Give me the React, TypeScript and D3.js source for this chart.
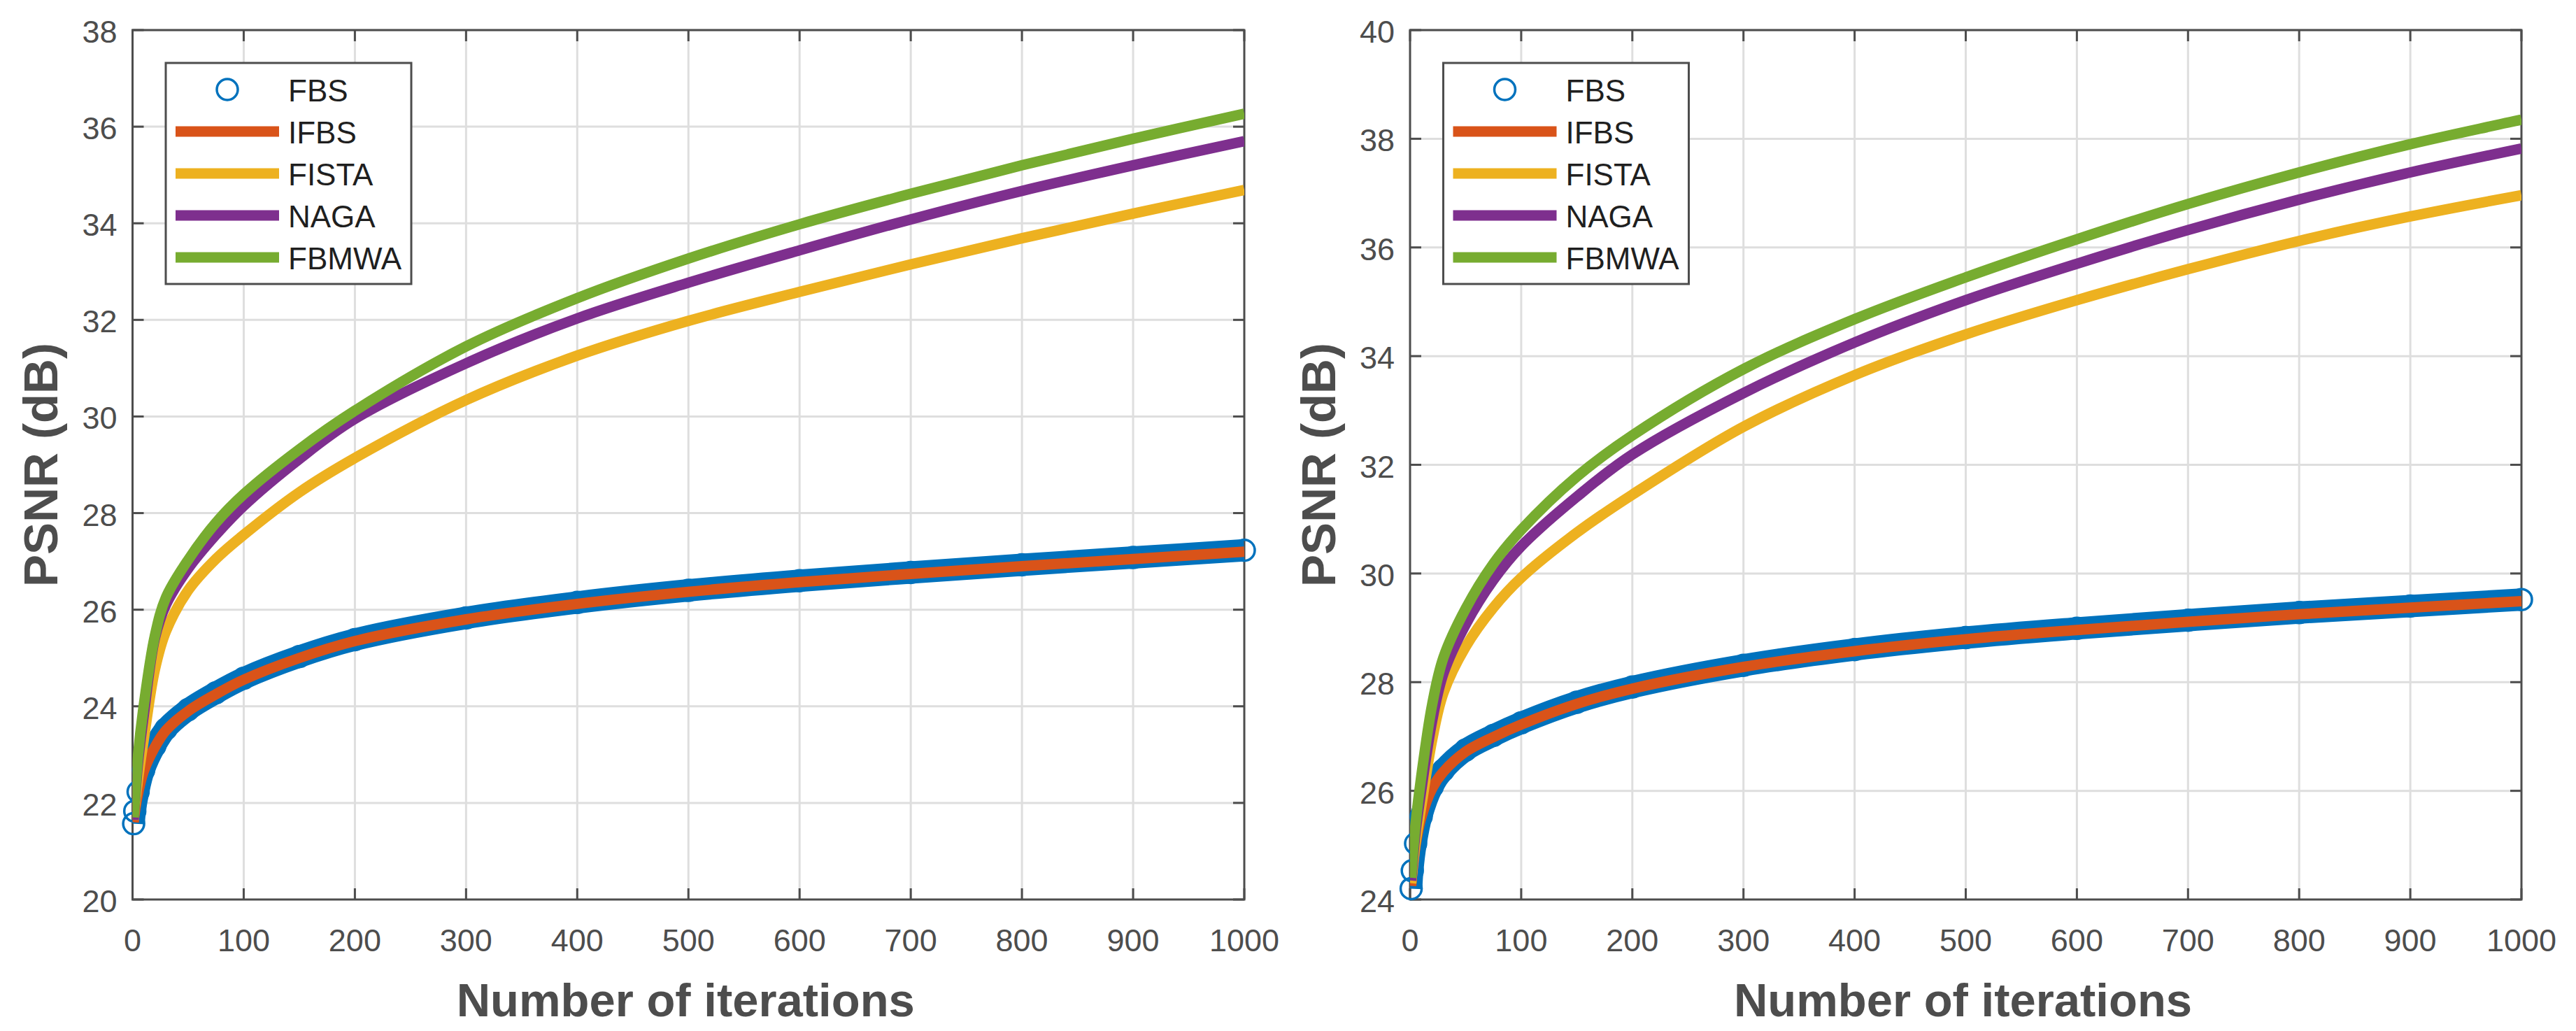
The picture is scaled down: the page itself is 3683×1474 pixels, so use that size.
import { useEffect, useRef } from 'react'
import * as d3 from 'd3'

const ITERATIONS = [1, 2, 5, 10, 20, 30, 50, 75, 100, 150, 200, 300, 400, 500, 600, 700, 800, 900, 1000]
const X_TICKS = [0, 100, 200, 300, 400, 500, 600, 700, 800, 900, 1000]
const Y_TICKS_LEFT = [20, 22, 24, 26, 28, 30, 32, 34, 36, 38]
const Y_TICKS_RIGHT = [24, 26, 28, 30, 32, 34, 36, 38, 40]

const SERIES_NAMES = ['FBS', 'IFBS', 'FISTA', 'NAGA', 'FBMWA']
const SERIES_COLORS = ['#0072BD', '#D95319', '#EDB120', '#7E2F8E', '#77AC30']

// left panel
const FBS_LEFT = [21.57, 21.83, 22.23, 22.68, 23.18, 23.53, 23.93, 24.28, 24.58, 25.03, 25.38, 25.83, 26.15, 26.4, 26.6, 26.77, 26.93, 27.08, 27.23]
const IFBS_LEFT = [21.6, 21.8, 22.2, 22.65, 23.15, 23.5, 23.9, 24.25, 24.55, 25.0, 25.35, 25.8, 26.12, 26.37, 26.57, 26.74, 26.9, 27.05, 27.2]
const FISTA_LEFT = [21.65, 21.9, 22.5, 23.3, 24.75, 25.55, 26.4, 27.05, 27.55, 28.43, 29.14, 30.34, 31.26, 31.98, 32.58, 33.15, 33.69, 34.2, 34.69]
const NAGA_LEFT = [21.65, 22.0, 22.85, 23.8, 25.4, 26.1, 26.85, 27.55, 28.15, 29.12, 29.95, 31.1, 32.03, 32.77, 33.44, 34.08, 34.67, 35.2, 35.7]
const FBMWA_LEFT = [21.7, 22.05, 23.0, 24.0, 25.45, 26.25, 27.03, 27.8, 28.39, 29.32, 30.12, 31.45, 32.45, 33.27, 33.98, 34.61, 35.2, 35.75, 36.27]

// right panel
const FBS_RIGHT = [24.2, 24.53, 25.03, 25.53, 26.08, 26.38, 26.75, 27.02, 27.25, 27.63, 27.91, 28.31, 28.6, 28.82, 28.99, 29.14, 29.28, 29.4, 29.52]
const IFBS_RIGHT = [24.25, 24.5, 25.0, 25.5, 26.05, 26.35, 26.72, 26.99, 27.22, 27.6, 27.88, 28.28, 28.57, 28.79, 28.96, 29.11, 29.25, 29.37, 29.49]
const FISTA_RIGHT = [24.3, 24.5, 25.05, 25.7, 26.95, 27.8, 28.65, 29.37, 29.92, 30.75, 31.45, 32.7, 33.65, 34.4, 35.03, 35.6, 36.12, 36.57, 36.96]
const NAGA_RIGHT = [24.35, 24.6, 25.25, 26.0, 27.3, 28.16, 29.06, 29.88, 30.5, 31.41, 32.19, 33.32, 34.25, 35.03, 35.7, 36.32, 36.88, 37.38, 37.82]
const FBMWA_RIGHT = [24.4, 24.7, 25.4, 26.25, 27.6, 28.45, 29.35, 30.18, 30.8, 31.78, 32.54, 33.76, 34.68, 35.45, 36.15, 36.8, 37.38, 37.9, 38.35]

const WIDTH = 3683
const HEIGHT = 1474
const PLOT_TOP = 43
const PLOT_BOTTOM = 1286
const AXIS_COLOR = '#4d4d4d'
const GRID_COLOR = '#dedede'
const FONT = '"Liberation Sans", Arial, Helvetica, sans-serif'

const panels = [
  {
    id: 'left',
    left: 189.5,
    right: 1779,
    yDomain: [20, 38],
    yTicks: Y_TICKS_LEFT,
    series: [FBS_LEFT, IFBS_LEFT, FISTA_LEFT, NAGA_LEFT, FBMWA_LEFT],
  },
  {
    id: 'right',
    left: 2016,
    right: 3605,
    yDomain: [24, 40],
    yTicks: Y_TICKS_RIGHT,
    series: [FBS_RIGHT, IFBS_RIGHT, FISTA_RIGHT, NAGA_RIGHT, FBMWA_RIGHT],
  },
]

export default function App() {
  const svgRef = useRef<SVGSVGElement>(null)

  useEffect(() => {
    if (!svgRef.current) return
    const svg = d3.select(svgRef.current)
    svg.selectAll('*').remove()

    svg.append('rect')
      .attr('width', WIDTH)
      .attr('height', HEIGHT)
      .attr('fill', '#fff')

    const defs = svg.append('defs')

    panels.forEach((p) => {
      const xScale = d3.scaleLinear().domain([0, 1000]).range([p.left, p.right])
      const yScale = d3.scaleLinear().domain(p.yDomain).range([PLOT_BOTTOM, PLOT_TOP])
      const g = svg.append('g')

      defs.append('clipPath')
        .attr('id', `clip-${p.id}`)
        .append('rect')
        .attr('x', p.left)
        .attr('y', PLOT_TOP)
        .attr('width', p.right - p.left)
        .attr('height', PLOT_BOTTOM - PLOT_TOP)

      // grid
      g.append('g')
        .selectAll('line')
        .data(X_TICKS.slice(1, -1))
        .join('line')
        .attr('x1', (d) => xScale(d))
        .attr('x2', (d) => xScale(d))
        .attr('y1', PLOT_TOP)
        .attr('y2', PLOT_BOTTOM)
        .attr('stroke', GRID_COLOR)
        .attr('stroke-width', 3)

      g.append('g')
        .selectAll('line')
        .data(p.yTicks.slice(1))
        .join('line')
        .attr('x1', p.left)
        .attr('x2', p.right)
        .attr('y1', (d) => yScale(d))
        .attr('y2', (d) => yScale(d))
        .attr('stroke', GRID_COLOR)
        .attr('stroke-width', 3)

      // box
      g.append('rect')
        .attr('x', p.left)
        .attr('y', PLOT_TOP)
        .attr('width', p.right - p.left)
        .attr('height', PLOT_BOTTOM - PLOT_TOP)
        .attr('fill', 'none')
        .attr('stroke', AXIS_COLOR)
        .attr('stroke-width', 3)

      // ticks (inward, all four sides)
      const tickLen = 16
      const ticks = g.append('g').attr('stroke', AXIS_COLOR).attr('stroke-width', 3)
      X_TICKS.forEach((t) => {
        ticks.append('line')
          .attr('x1', xScale(t)).attr('x2', xScale(t))
          .attr('y1', PLOT_BOTTOM).attr('y2', PLOT_BOTTOM - tickLen)
        ticks.append('line')
          .attr('x1', xScale(t)).attr('x2', xScale(t))
          .attr('y1', PLOT_TOP).attr('y2', PLOT_TOP + tickLen)
      })
      p.yTicks.forEach((t) => {
        ticks.append('line')
          .attr('x1', p.left).attr('x2', p.left + tickLen)
          .attr('y1', yScale(t)).attr('y2', yScale(t))
        ticks.append('line')
          .attr('x1', p.right).attr('x2', p.right - tickLen)
          .attr('y1', yScale(t)).attr('y2', yScale(t))
      })

      // tick labels
      g.append('g')
        .selectAll('text')
        .data(X_TICKS)
        .join('text')
        .attr('x', (d) => xScale(d))
        .attr('y', PLOT_BOTTOM + 74)
        .attr('text-anchor', 'middle')
        .attr('font-family', FONT)
        .attr('font-size', 45)
        .attr('fill', AXIS_COLOR)
        .text((d) => String(d))

      g.append('g')
        .selectAll('text')
        .data(p.yTicks)
        .join('text')
        .attr('x', p.left - 22)
        .attr('y', (d) => yScale(d) + 18)
        .attr('text-anchor', 'end')
        .attr('font-family', FONT)
        .attr('font-size', 45)
        .attr('fill', AXIS_COLOR)
        .text((d) => String(d))

      // axis labels
      g.append('text')
        .attr('transform', `translate(${p.left - 107.5}, ${(PLOT_TOP + PLOT_BOTTOM) / 2}) rotate(-90)`)
        .attr('text-anchor', 'middle')
        .attr('font-family', FONT)
        .attr('font-weight', 'bold')
        .attr('font-size', 69)
        .attr('fill', AXIS_COLOR)
        .text('PSNR (dB)')

      g.append('text')
        .attr('x', (p.left + p.right) / 2 - 4)
        .attr('y', 1453)
        .attr('text-anchor', 'middle')
        .attr('font-family', FONT)
        .attr('font-weight', 'bold')
        .attr('font-size', 67)
        .attr('fill', AXIS_COLOR)
        .text('Number of iterations')

      // data
      const line = d3.line<number>()
        .x((_, i) => xScale(ITERATIONS[i]))
        .y((d) => yScale(d))
        .curve(d3.curveCatmullRom.alpha(0.5))

      p.series.forEach((values, si) => {
        if (si === 0) {
          // FBS: dense circle markers every iteration -> solid band plus markers at read points
          g.append('path')
            .datum(values)
            .attr('clip-path', `url(#clip-${p.id})`)
            .attr('d', line)
            .attr('fill', 'none')
            .attr('stroke', SERIES_COLORS[0])
            .attr('stroke-width', 32)
            .attr('stroke-linejoin', 'round')
          g.append('g')
            .selectAll('circle')
            .data(values)
            .join('circle')
            .attr('cx', (_, i) => xScale(ITERATIONS[i]))
            .attr('cy', (d) => yScale(d))
            .attr('r', 15)
            .attr('fill', 'none')
            .attr('stroke', SERIES_COLORS[0])
            .attr('stroke-width', 3.5)
        } else {
          g.append('path')
            .datum(values)
            .attr('clip-path', `url(#clip-${p.id})`)
            .attr('d', line)
            .attr('fill', 'none')
            .attr('stroke', SERIES_COLORS[si])
            .attr('stroke-width', 15)
            .attr('stroke-linejoin', 'round')
        }
      })

      // legend
      const lg = g.append('g').attr('transform', `translate(${p.left + 47.5}, 90)`)
      lg.append('rect')
        .attr('width', 351)
        .attr('height', 316)
        .attr('fill', '#fff')
        .attr('stroke', AXIS_COLOR)
        .attr('stroke-width', 3)
      SERIES_NAMES.forEach((name, i) => {
        const cy = 38 + i * 60
        if (i === 0) {
          lg.append('circle')
            .attr('cx', 88)
            .attr('cy', cy)
            .attr('r', 15)
            .attr('fill', 'none')
            .attr('stroke', SERIES_COLORS[0])
            .attr('stroke-width', 3.5)
        } else {
          lg.append('line')
            .attr('x1', 14)
            .attr('x2', 162)
            .attr('y1', cy)
            .attr('y2', cy)
            .attr('stroke', SERIES_COLORS[i])
            .attr('stroke-width', 15)
        }
        lg.append('text')
          .attr('x', 175)
          .attr('y', cy + 17)
          .attr('font-family', FONT)
          .attr('font-size', 44)
          .attr('fill', '#1f1f1f')
          .text(name)
      })
    })
  }, [])

  return (
    <svg
      ref={svgRef}
      width={WIDTH}
      height={HEIGHT}
      style={{ position: 'absolute', left: 0, top: 0 }}
    />
  )
}
